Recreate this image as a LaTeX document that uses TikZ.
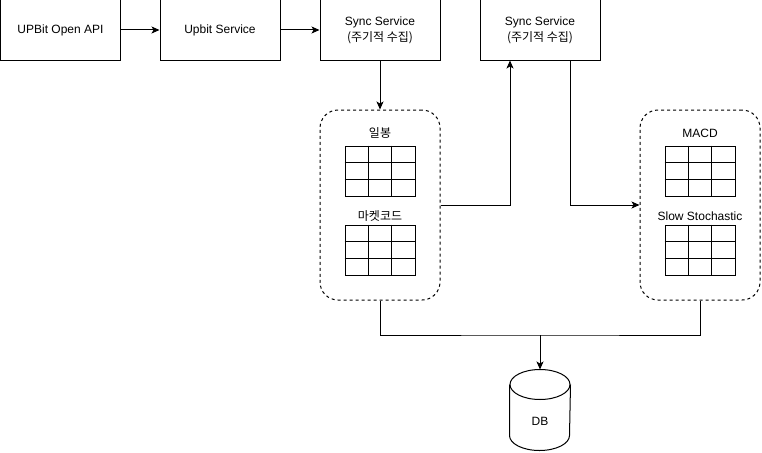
\documentclass[tikz,border=0pt]{standalone}
\usepackage{fontspec}
\setmainfont{Liberation Sans}
\newfontfamily\krfont{Noto Sans CJK KR}
\usetikzlibrary{arrows.meta,calc}
\begin{document}
\begin{tikzpicture}[x=1pt,y=-1pt,line width=1pt,
  every node/.style={font=\fontsize{12}{16}\selectfont},
  box/.style={draw,minimum width=120pt,minimum height=60pt,inner sep=0pt,align=center},
  cont/.style={draw,dashed,dash pattern=on 3pt off 3pt,rounded corners=18pt,minimum width=120pt,minimum height=190pt,inner sep=0pt},
  tbl/.style={draw,minimum width=70pt,minimum height=50pt,inner sep=0pt},
  lbl/.style={inner sep=0pt},
  arr/.style={-{Stealth[length=8pt,width=7pt,inset=2pt]}},
  link/.style={line width=1pt}]
\useasboundingbox (0,0) rectangle (762,452);
% top row
\node[box] (b1) at (60.5,30) {UPBit Open API};
\node[box] (b2) at (220,30) {Upbit Service};
\node[box] (b3) at (380,30) {Sync Service\\{\krfont (주기적 수집)}};
\node[box] (b4) at (540,30) {Sync Service\\{\krfont (주기적 수집)}};
% containers
\node[cont] (c1) at (380,205) {};
\node[cont] (c2) at (700,205) {};
% labels and tables
\node[lbl] (l1) at (380,133) {\krfont 일봉};
\node[tbl] (t1) at (380,171) {};
\node[lbl] (l2) at (380,216) {\krfont 마켓코드};
\node[tbl] (t2) at (380,250) {};
\node[lbl] (l3) at (700,133) {MACD};
\node[tbl] (t3) at (700,171) {};
\node[lbl] (l4) at (700,216) {Slow Stochastic};
\node[tbl] (t4) at (700,250) {};
\foreach \t in {t1,t2,t3,t4}{
  \foreach \f in {1,2}{
    \draw ($(\t.north west)!\f/3!(\t.north east)$) -- ($(\t.south west)!\f/3!(\t.south east)$);
    \draw ($(\t.north west)!\f/3!(\t.south west)$) -- ($(\t.north east)!\f/3!(\t.south east)$);
  }
}
% DB
\node[minimum width=60pt,minimum height=80pt,inner sep=0pt] (db) at (540,410) {};
\node[lbl] (dbl) at (540,421) {DB};
\draw ([yshift=-15pt]db.north west) -- ([yshift=15pt]db.south west)
  arc[start angle=180,end angle=360,x radius=30pt,y radius=15pt]
  -- ([yshift=-15pt]db.north east);
\draw ([yshift=-15pt]db.north) ellipse [x radius=30pt,y radius=15pt];
% connectors
\draw[arr] (b1) -- (b2);
\draw[arr] (b2) -- (b3);
\draw[arr] (b3) -- (c1);
\draw[arr] (c1.east) -| ([xshift=-30pt]b4.south);
\draw[arr] ([xshift=30pt]b4.south) |- (c2.west);
\coordinate (j) at (540,335);
\draw (c1.south) |- (j) -| (c2.south);
\draw[arr] (j) -- (db.north);
\end{tikzpicture}
\end{document}
